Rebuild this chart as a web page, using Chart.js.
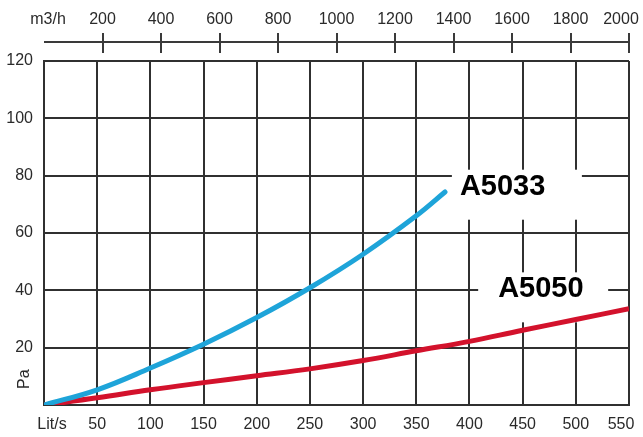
<!DOCTYPE html>
<html>
<head>
<meta charset="utf-8">
<script src="https://cdn.jsdelivr.net/npm/chart.js@4.4.0/dist/chart.umd.min.js"></script>
<style>
html, body { margin: 0; padding: 0; background: #ffffff; }
</style>
</head>
<body>
<canvas id="myChart" width="643" height="437"></canvas>
<script>
// values
var flowA5033 = [0, 50, 100, 150, 200, 250, 300, 350, 377];
var pressureA5033 = [0, 5.3, 12.9, 21.2, 30.5, 40.9, 52.6, 66, 74.3];
var flowA5050 = [0, 50, 100, 150, 200, 250, 300, 350, 400, 450, 500, 550];
var pressureA5050 = [0, 2.5, 5.3, 7.8, 10.2, 12.6, 15.5, 18.9, 22.2, 26.1, 29.8, 33.6];

var litTicks = [0, 50, 100, 150, 200, 250, 300, 350, 400, 450, 500, 550];
var m3hTicks = [200, 400, 600, 800, 1000, 1200, 1400, 1600, 1800, 2000];
var paTicks = [20, 40, 60, 80, 100, 120];

// curve names and where their tags sit (data coords)
var seriesNames = ["A5033", "A5050"];
var tagPos = [{x: 391, y: 76.5}, {x: 427, y: 40.7}];

var toPoints = function(xs, ys){
    return xs.map(function(x, i){
        return {x: x, y: ys[i]};
    });
}

var font = "'Liberation Sans', Arial, sans-serif";
var gridColor = "#303030";
var textColor = "#2a2a2a";
var en = "\u2002";

var extras = {
    id: "extras",
    beforeDatasetsDraw: function(chart){
        // white boxes behind the curve tags
        var ctx = chart.ctx;
        var xs = chart.scales.x, ys = chart.scales.y;
        ctx.save();
        ctx.fillStyle = "#ffffff";
        tagPos.forEach(function(p, i){
            var px = xs.getPixelForValue(p.x);
            var py = ys.getPixelForValue(p.y);
            var left = i === 0 ? 8 : 20;
            ctx.fillRect(px - left, py - 16, 130, 50);
        });
        ctx.restore();
    },
    afterDraw: function(chart){
        var ctx = chart.ctx;
        var area = chart.chartArea;
        var top = chart.scales.x2;
        var ys = chart.scales.y;
        var xs = chart.scales.x;
        ctx.save();

        // top m3/h axis line with crossing ticks
        var lineY = 42;
        ctx.strokeStyle = "#3a3a3a";
        ctx.lineWidth = 2;
        ctx.beginPath();
        ctx.moveTo(area.left, lineY);
        ctx.lineTo(top.getPixelForValue(2000) + 1, lineY);
        m3hTicks.forEach(function(v){
            var px = Math.round(top.getPixelForValue(v));
            ctx.moveTo(px, lineY - 9);
            ctx.lineTo(px, lineY + 11);
        });
        ctx.stroke();

        // Pa unit, rotated
        ctx.fillStyle = textColor;
        ctx.font = "16px " + font;
        ctx.textAlign = "center";
        ctx.textBaseline = "middle";
        ctx.translate(ys.right - 19, ys.getPixelForValue(9));
        ctx.rotate(-Math.PI / 2);
        ctx.fillText("Pa", 0, 0);
        ctx.setTransform(1, 0, 0, 1, 0, 0);

        // curve tags
        ctx.fillStyle = "#000000";
        ctx.font = "bold 29px " + font;
        ctx.textAlign = "left";
        ctx.textBaseline = "middle";
        seriesNames.forEach(function(name, i){
            var px = xs.getPixelForValue(tagPos[i].x);
            var py = ys.getPixelForValue(tagPos[i].y);
            ctx.fillText(name, px, py + 1);
        });
        ctx.restore();
    }
};

var ctx = document.getElementById("myChart");
var myChart = new Chart(ctx, {
    type: "scatter",
    data: {
        datasets: [{
            label: seriesNames[0],
            data: toPoints(flowA5033, pressureA5033),
            showLine: true,
            borderColor: "#1ea4d9",
            borderWidth: 5,
            pointRadius: 0,
            tension: 0.4,
            borderCapStyle: "round"
        }, {
            label: seriesNames[1],
            data: toPoints(flowA5050, pressureA5050),
            showLine: true,
            borderColor: "#d3122c",
            borderWidth: 5,
            pointRadius: 0,
            tension: 0.4
        }]
    },
    options: {
        responsive: false,
        animation: false,
        devicePixelRatio: 1,
        layout: { padding: { left: 0, right: 14, top: 0, bottom: 0 } },
        plugins: {
            legend: { display: false },
            tooltip: { enabled: false }
        },
        scales: {
            x: {
                type: "linear",
                position: "bottom",
                min: 0,
                max: 550,
                afterBuildTicks: function(scale){
                    scale.ticks = litTicks.map(function(v){ return {value: v}; });
                },
                afterFit: function(scale){
                    scale.height = 32;
                    scale.paddingLeft = 0;
                    scale.paddingRight = 0;
                },
                grid: { color: gridColor, lineWidth: 2, drawTicks: false },
                border: { color: gridColor, width: 2 },
                ticks: {
                    autoSkip: false,
                    maxRotation: 0,
                    padding: 10,
                    color: textColor,
                    font: { family: font, size: 16 },
                    callback: function(v){
                        if (v === 0) return en + en + "Lit/s";
                        if (v === 550) return v + en + en;
                        return v;
                    }
                }
            },
            x2: {
                type: "linear",
                position: "top",
                min: 0,
                max: 2000,
                afterBuildTicks: function(scale){
                    scale.ticks = [0].concat(m3hTicks).map(function(v){ return {value: v}; });
                },
                afterFit: function(scale){
                    scale.height = 61;
                    scale.paddingLeft = 0;
                    scale.paddingRight = 0;
                },
                grid: { display: false, drawTicks: false },
                border: { display: false },
                ticks: {
                    autoSkip: false,
                    maxRotation: 0,
                    padding: 32,
                    color: textColor,
                    font: { family: font, size: 16 },
                    callback: function(v){
                        if (v === 0) return en + "m3/h";
                        if (v === 2000) return v + en + en;
                        return v;
                    }
                }
            },
            y: {
                min: 0,
                max: 120,
                afterBuildTicks: function(scale){
                    scale.ticks = [0].concat(paTicks).map(function(v){ return {value: v}; });
                },
                afterFit: function(scale){ scale.width = 44; },
                grid: { color: gridColor, lineWidth: 2, drawTicks: false },
                border: { color: gridColor, width: 2 },
                ticks: {
                    padding: 11,
                    color: textColor,
                    font: { family: font, size: 16 },
                    callback: function(v){ return v === 0 ? "" : v; }
                }
            }
        }
    },
    plugins: [extras]
});
</script>
</body>
</html>
